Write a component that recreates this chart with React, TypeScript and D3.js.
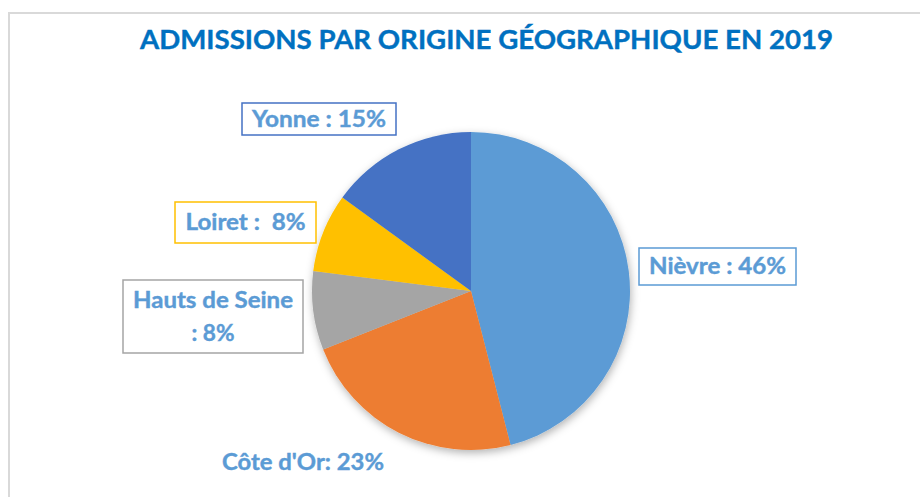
import React, { useEffect, useRef } from 'react';
import * as d3 from 'd3';

// données
const regions = ['Nièvre', 'Côte d\'Or', 'Hauts de Seine', 'Loiret', 'Yonne'];
const shares = [46, 23, 8, 8, 15];
const colors = ['#5B9BD5', '#ED7D31', '#A5A5A5', '#FFC000', '#4472C4'];
const labelLines = [
    ['Nièvre : 46%'],
    ['Côte d\'Or: 23%'],
    ['Hauts de Seine', ': 8%'],
    ['Loiret :  8%'],
    ['Yonne : 15%'],
];

// placement manuel des étiquettes (comme dans Excel)
const labelBoxes = [
    { x: 639, y: 248, w: 157, h: 37, box: true, widths: [137] },
    { x: 212, y: 444, w: 182, h: 36, box: false, widths: [162] },
    { x: 123, y: 280, w: 180, h: 73, box: true, widths: [160, 43] },
    { x: 175, y: 202, w: 141, h: 41, box: true, widths: [120] },
    { x: 242, y: 103, w: 154, h: 32, box: true, widths: [134] },
];

const width = 920;
const height = 497;
const cx = 471;
const cy = 291;
const radius = 159;
const font = 'Lato, "Open Sans", sans-serif';

const App = () => {
    const ref = useRef<SVGSVGElement>(null);

    useEffect(() => {
        const svg = d3.select(ref.current);
        svg.selectAll('*').remove();

        const defs = svg.append('defs');
        const filter = defs.append('filter')
            .attr('id', 'pieShadow')
            .attr('x', '-20%').attr('y', '-20%')
            .attr('width', '140%').attr('height', '140%');
        filter.append('feDropShadow')
            .attr('dx', 1).attr('dy', 3)
            .attr('stdDeviation', 4)
            .attr('flood-color', '#000')
            .attr('flood-opacity', 0.3);

        svg.append('rect')
            .attr('width', width).attr('height', height)
            .attr('fill', '#fff');

        // cadre du graphique
        svg.append('rect')
            .attr('x', 9).attr('y', 13)
            .attr('width', 1000).attr('height', 1000)
            .attr('fill', 'none')
            .attr('stroke', '#D9D9D9')
            .attr('stroke-width', 2);

        svg.append('text')
            .attr('x', 486.5).attr('y', 49)
            .attr('text-anchor', 'middle')
            .attr('font-family', font)
            .attr('font-weight', 700)
            .attr('font-size', 27)
            .attr('fill', '#0070C0')
            .attr('stroke', '#0070C0')
            .attr('stroke-width', 0.4)
            .attr('textLength', 693)
            .attr('lengthAdjust', 'spacingAndGlyphs')
            .text('ADMISSIONS PAR ORIGINE GÉOGRAPHIQUE EN 2019');

        const pie = d3.pie<number>().sort(null).value(d => d);
        const arc = d3.arc<d3.PieArcDatum<number>>().innerRadius(0).outerRadius(radius);

        svg.append('g')
            .attr('transform', `translate(${cx},${cy})`)
            .attr('filter', 'url(#pieShadow)')
            .selectAll('path')
            .data(pie(shares))
            .join('path')
            .attr('d', arc)
            .attr('fill', (d, i) => colors[i]);

        const labels = svg.append('g')
            .selectAll('g')
            .data(regions)
            .join('g');

        labels.each(function (d, i) {
            const b = labelBoxes[i];
            const g = d3.select(this);
            if (b.box) {
                g.append('rect')
                    .attr('x', b.x).attr('y', b.y)
                    .attr('width', b.w).attr('height', b.h)
                    .attr('fill', '#fff')
                    .attr('stroke', colors[i])
                    .attr('stroke-width', 1.5);
            }
            const lines = labelLines[i];
            const lineH = 33;
            const top = b.y + b.h / 2 - (lines.length - 1) * lineH / 2;
            lines.forEach((line, j) => {
                g.append('text')
                    .attr('x', b.x + b.w / 2)
                    .attr('y', top + j * lineH)
                    .attr('dy', '0.36em')
                    .attr('text-anchor', 'middle')
                    .attr('font-family', font)
                    .attr('font-weight', 700)
                    .attr('font-size', 22)
                    .attr('fill', '#5B9BD5')
                    .attr('stroke', '#5B9BD5')
                    .attr('stroke-width', 0.4)
                    .attr('textLength', b.widths[j])
                    .attr('lengthAdjust', 'spacingAndGlyphs')
                    .style('white-space', 'pre')
                    .text(line);
            });
        });
    }, []);

    return (
        <svg ref={ref} width={width} height={height}
            style={{ position: 'absolute', left: 0, top: 0, display: 'block' }} />
    );
};

export default App;
